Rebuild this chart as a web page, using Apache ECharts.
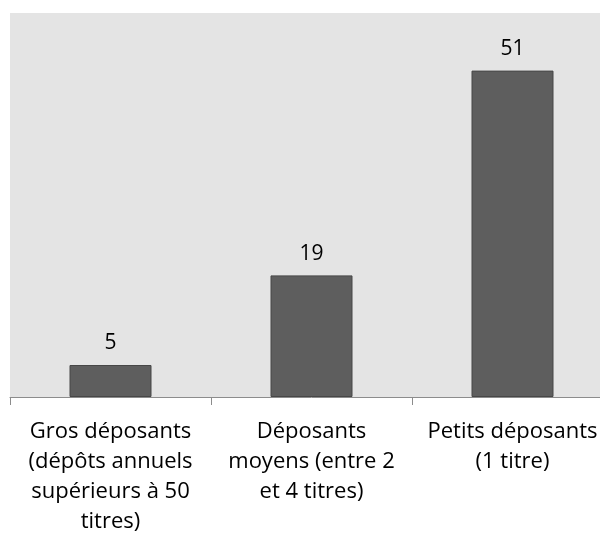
<!DOCTYPE html>
<html>
<head>
<meta charset="utf-8">
<script src="https://cdn.jsdelivr.net/npm/echarts@6/dist/echarts.min.js"></script>
<style>
  html, body { margin: 0; padding: 0; background: #fff; overflow: hidden; }
  #main { width: 620px; height: 538px; }
</style>
</head>
<body>
<div id="main"></div>
<script>
// categories (line breaks as in the picture)
const categories = [
  'Gros déposants\n(dépôts annuels\nsupérieurs à 50\ntitres)',
  'Déposants\nmoyens (entre 2\net 4 titres)',
  'Petits déposants\n(1 titre)'
]
const values = [5, 19, 51]

const chart = echarts.init(document.getElementById('main'))

chart.setOption({
  animation: false,
  textStyle: { fontFamily: '"Open Sans", sans-serif' },
  grid: {
    left: 10,
    width: 603,
    top: 13,
    bottom: 141,
    show: true,
    backgroundColor: '#e4e4e4',
    borderWidth: 0
  },
  xAxis: {
    type: 'category',
    data: categories,
    axisLine: { lineStyle: { color: '#8c8c8c', width: 1 } },
    axisTick: { show: true, length: 8, lineStyle: { color: '#8c8c8c' } },
    axisLabel: {
      interval: 0,
      color: '#000',
      fontSize: 22,
      lineHeight: 30,
      margin: 20,
      fontFamily: '"Open Sans", sans-serif'
    }
  },
  yAxis: {
    type: 'value',
    min: 0,
    max: 60,
    show: false,
    splitLine: { show: false }
  },
  series: [{
    type: 'bar',
    data: values,
    barWidth: 82,
    itemStyle: { color: '#5e5e5e', borderColor: '#474747', borderWidth: 1 },
    label: {
      show: true,
      position: 'top',
      distance: 11,
      color: '#000',
      fontSize: 21,
      fontFamily: '"Open Sans", sans-serif'
    }
  }]
})
</script>
</body>
</html>
